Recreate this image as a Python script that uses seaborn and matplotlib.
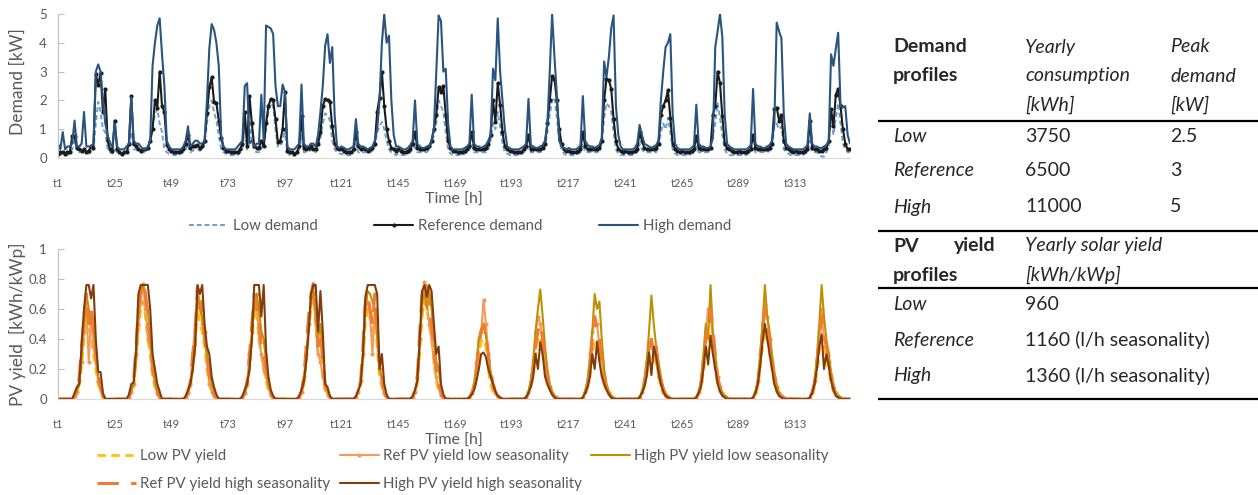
import numpy as np
import pandas as pd
import matplotlib.pyplot as plt
import seaborn as sns

# hourly profiles, 14 days (t1 .. t336)
hours = np.arange(336)
tick_pos = np.arange(0, 336, 24)
tick_labels = ["t1", "t25", "t49", "t73", "t97", "t121", "t145", "t169",
               "t193", "t217", "t241", "t265", "t289", "t313"]

low_demand = [
    0.1, 0.1, 0.15, 0.1, 0.1, 0.15, 0.3, 0.6, 0.3, 0.2, 0.2, 0.2, 0.2, 0.15, 0.2, 0.3, 1.2, 1.95, 1.6, 1.0, 0.9, 0.3, 0.2, 0.15,
    0.3, 0.2, 0.15, 0.1, 0.15, 0.15, 0.3, 0.9, 0.3, 0.3, 0.25, 0.2, 0.2, 0.2, 0.3, 0.6, 1.1, 1.5, 1.7, 1.2, 0.9, 0.3, 0.2, 0.15,
    0.15, 0.1, 0.1, 0.1, 0.15, 0.2, 0.3, 0.5, 0.2, 0.25, 0.3, 0.3, 0.25, 0.3, 0.5, 1.2, 1.8, 2.0, 1.6, 1.3, 0.8, 0.3, 0.2, 0.15,
    0.15, 0.1, 0.1, 0.1, 0.1, 0.2, 0.3, 1.0, 0.3, 1.3, 0.6, 0.25, 0.2, 0.2, 0.4, 0.3, 1.0, 1.6, 1.9, 1.8, 1.0, 0.4, 0.4, 0.6,
    1.0, 0.2, 0.1, 0.1, 0.1, 0.15, 0.3, 0.8, 0.2, 0.2, 0.2, 0.3, 0.2, 0.2, 0.4, 0.7, 1.2, 1.55, 1.5, 1.3, 0.6, 0.3, 0.2, 0.15,
    0.15, 0.1, 0.1, 0.1, 0.1, 0.2, 0.5, 0.2, 0.15, 0.2, 0.2, 0.15, 0.2, 0.25, 0.4, 0.9, 1.1, 1.25, 1.0, 0.6, 0.3, 0.2, 0.15, 0.1,
    0.15, 0.1, 0.1, 0.1, 0.15, 0.2, 0.3, 0.4, 0.2, 0.2, 0.2, 0.2, 0.2, 0.3, 0.5, 0.8, 1.2, 2.0, 1.8, 1.6, 0.9, 0.3, 0.15, 0.1,
    0.1, 0.1, 0.1, 0.1, 0.15, 0.2, 0.25, 0.5, 0.2, 0.2, 0.2, 0.2, 0.2, 0.2, 0.3, 0.6, 1.2, 1.0, 1.6, 1.1, 0.5, 0.2, 0.15, 0.1,
    0.1, 0.1, 0.1, 0.1, 0.15, 0.2, 0.25, 0.4, 0.2, 0.2, 0.2, 0.2, 0.2, 0.25, 0.4, 0.9, 1.5, 2.0, 2.1, 1.4, 0.6, 0.3, 0.15, 0.1,
    0.1, 0.1, 0.1, 0.1, 0.15, 0.2, 0.5, 0.2, 0.2, 0.2, 0.2, 0.2, 0.2, 0.25, 0.5, 1.4, 1.9, 1.8, 1.6, 0.9, 0.3, 0.15, 0.1, 0.1,
    0.1, 0.1, 0.1, 0.1, 0.15, 0.2, 0.5, 0.3, 0.2, 0.2, 0.2, 0.2, 0.2, 0.2, 0.4, 0.9, 1.2, 1.0, 1.4, 0.9, 0.3, 0.15, 0.1, 0.1,
    0.1, 0.1, 0.1, 0.1, 0.15, 0.2, 0.4, 0.2, 0.2, 0.2, 0.2, 0.2, 0.25, 0.8, 1.2, 1.9, 1.4, 0.8, 0.3, 0.15, 0.1, 0.1, 0.1, 0.1,
    0.1, 0.1, 0.1, 0.1, 0.15, 0.2, 0.4, 0.2, 0.2, 0.2, 0.2, 0.2, 0.2, 0.25, 0.4, 1.1, 1.2, 1.0, 1.1, 0.3, 0.2, 0.15, 0.1, 0.1,
    0.1, 0.1, 0.1, 0.1, 0.15, 0.2, 0.6, 0.2, 0.2, 0.2, 0.1, 0.05, 0.05, 0.2, 0.4, 1.5, 0.8, 1.4, 1.9, 1.2, 0.5, 0.3, 0.2, 0.2,
]
ref_demand = [
    0.15, 0.2, 0.2, 0.15, 0.2, 0.2, 0.75, 0.75, 0.35, 0.3, 0.25, 0.3, 0.2, 0.25, 0.4, 0.35, 2.9, 2.55, 2.95, 1.6, 2.4, 0.6, 0.3, 0.25,
    1.3, 0.3, 0.2, 0.15, 0.2, 0.2, 0.5, 2.15, 0.5, 0.4, 0.3, 0.25, 0.3, 0.3, 0.35, 0.6, 1.0, 2.0, 1.75, 3.0, 1.8, 1.6, 0.45, 0.3,
    0.25, 0.2, 0.2, 0.2, 0.25, 0.3, 0.5, 0.8, 0.35, 0.4, 0.4, 0.45, 0.35, 0.4, 0.6, 1.55, 2.45, 2.8, 1.95, 1.9, 1.3, 0.7, 0.35, 0.25,
    0.25, 0.2, 0.2, 0.2, 0.2, 0.3, 0.5, 1.6, 0.4, 2.15, 1.2, 0.4, 0.35, 0.35, 0.6, 0.4, 1.2, 1.8, 2.05, 2.0, 1.35, 0.55, 0.6, 1.0,
    2.3, 0.25, 0.2, 0.2, 0.15, 0.2, 0.4, 1.45, 0.35, 0.3, 0.35, 0.4, 0.3, 0.3, 0.5, 0.9, 1.8, 2.05, 2.0, 1.95, 1.1, 0.5, 0.35, 0.3,
    0.3, 0.25, 0.2, 0.2, 0.2, 0.3, 0.9, 0.4, 0.3, 0.35, 0.3, 0.25, 0.3, 0.35, 0.5, 1.6, 2.1, 3.0, 1.8, 1.0, 0.6, 0.35, 0.3, 0.25,
    0.3, 0.25, 0.2, 0.2, 0.25, 0.3, 0.5, 0.9, 0.35, 0.3, 0.3, 0.3, 0.35, 0.4, 0.6, 1.0, 1.5, 2.45, 2.3, 2.5, 1.5, 0.6, 0.35, 0.25,
    0.25, 0.2, 0.2, 0.2, 0.25, 0.3, 0.4, 0.9, 0.35, 0.3, 0.3, 0.3, 0.3, 0.35, 0.5, 0.8, 2.0, 1.25, 2.6, 1.85, 0.9, 0.4, 0.3, 0.25,
    0.25, 0.2, 0.2, 0.2, 0.2, 0.3, 0.4, 0.8, 0.3, 0.3, 0.3, 0.3, 0.3, 0.35, 0.5, 1.2, 2.0, 2.85, 2.75, 2.0, 1.0, 0.5, 0.3, 0.25,
    0.25, 0.2, 0.2, 0.2, 0.25, 0.3, 0.9, 0.4, 0.3, 0.3, 0.3, 0.3, 0.3, 0.35, 0.6, 2.0, 2.75, 2.7, 2.4, 1.35, 0.6, 0.3, 0.25, 0.2,
    0.25, 0.2, 0.2, 0.2, 0.25, 0.3, 0.9, 0.6, 0.35, 0.3, 0.3, 0.3, 0.3, 0.35, 0.5, 1.5, 1.8, 2.0, 2.35, 1.4, 0.5, 0.3, 0.25, 0.2,
    0.25, 0.2, 0.2, 0.2, 0.25, 0.3, 0.75, 0.35, 0.3, 0.3, 0.3, 0.3, 0.35, 1.5, 1.8, 3.0, 2.6, 1.45, 0.5, 0.35, 0.3, 0.25, 0.2, 0.2,
    0.25, 0.2, 0.2, 0.2, 0.25, 0.3, 0.8, 0.35, 0.3, 0.3, 0.3, 0.3, 0.3, 0.35, 0.5, 1.7, 1.75, 1.3, 1.5, 0.6, 0.35, 0.3, 0.25, 0.2,
    0.25, 0.2, 0.2, 0.2, 0.25, 0.3, 1.3, 0.35, 0.3, 0.3, 0.25, 0.25, 0.3, 0.35, 0.6, 1.7, 1.1, 2.2, 2.4, 1.8, 1.0, 0.5, 0.3, 0.3,
]
high_demand = [
    0.5, 0.3, 0.9, 0.3, 0.4, 0.4, 0.5, 1.3, 0.4, 0.4, 0.5, 1.6, 0.4, 0.4, 0.4, 0.5, 3.0, 3.25, 3.0, 2.0, 1.2, 0.8, 0.5, 0.4,
    1.2, 0.4, 0.3, 0.3, 0.3, 0.4, 0.5, 2.1, 0.6, 0.5, 0.5, 0.4, 0.3, 0.3, 0.4, 0.6, 3.2, 4.0, 4.6, 4.85, 3.6, 2.5, 0.6, 0.4,
    0.3, 0.3, 0.3, 0.3, 0.3, 0.4, 0.6, 1.1, 0.4, 0.5, 0.6, 0.6, 0.5, 0.5, 0.6, 2.0, 3.8, 4.65, 4.45, 4.0, 3.2, 0.8, 0.4, 0.3,
    0.3, 0.3, 0.3, 0.3, 0.4, 0.5, 0.6, 2.5, 2.6, 0.5, 0.6, 0.4, 0.5, 0.5, 2.2, 0.6, 4.6, 4.55, 4.5, 4.3, 2.5, 1.8, 1.8, 2.55,
    2.3, 0.4, 0.3, 0.3, 0.3, 0.4, 0.5, 2.55, 0.5, 0.4, 0.4, 0.5, 0.5, 0.4, 0.8, 1.6, 2.5, 3.9, 4.3, 3.3, 3.85, 1.5, 0.4, 0.35,
    0.4, 0.35, 0.3, 0.3, 0.35, 0.4, 1.35, 0.5, 0.4, 0.4, 0.35, 0.3, 0.35, 0.4, 0.6, 1.0, 2.0, 4.0, 5.0, 4.0, 4.25, 2.0, 0.8, 0.4,
    0.4, 0.35, 0.3, 0.3, 0.35, 0.45, 0.6, 2.0, 0.5, 0.4, 0.35, 0.35, 0.4, 0.4, 0.6, 1.0, 3.0, 4.95, 4.75, 3.0, 3.1, 1.2, 0.4, 0.3,
    0.3, 0.3, 0.3, 0.3, 0.35, 0.4, 0.5, 2.2, 0.5, 0.4, 0.4, 0.35, 0.4, 0.45, 0.6, 0.8, 3.1, 2.7, 4.85, 3.0, 2.0, 1.0, 0.4, 0.35,
    0.3, 0.3, 0.3, 0.3, 0.35, 0.4, 0.5, 2.05, 0.45, 0.4, 0.35, 0.35, 0.4, 0.45, 0.6, 1.2, 3.0, 5.0, 3.5, 2.2, 0.6, 0.4, 0.35, 0.3,
    0.35, 0.3, 0.3, 0.3, 0.35, 0.45, 2.15, 0.6, 0.45, 0.4, 0.4, 0.35, 0.4, 0.45, 0.7, 3.35, 2.8, 3.5, 4.5, 4.95, 1.8, 0.8, 0.4, 0.3,
    0.3, 0.3, 0.3, 0.3, 0.35, 0.5, 1.15, 0.8, 0.5, 0.45, 0.4, 0.35, 0.4, 0.45, 0.6, 2.0, 3.0, 3.85, 4.0, 4.3, 1.5, 0.5, 0.35, 0.3,
    0.3, 0.3, 0.3, 0.3, 0.35, 0.45, 1.85, 0.5, 0.4, 0.4, 0.35, 0.35, 0.4, 0.7, 3.85, 4.4, 5.0, 4.2, 1.5, 0.5, 0.4, 0.35, 0.3, 0.3,
    0.3, 0.3, 0.3, 0.3, 0.35, 0.45, 2.4, 0.5, 0.4, 0.4, 0.35, 0.35, 0.4, 0.45, 0.6, 1.2, 4.7, 4.4, 4.15, 1.5, 0.5, 0.4, 0.35, 0.3,
    0.3, 0.3, 0.3, 0.3, 0.35, 0.45, 1.55, 0.5, 0.4, 0.4, 0.35, 0.35, 0.4, 0.45, 0.6, 3.6, 3.2, 3.8, 4.35, 1.8, 1.75, 1.8, 0.8, 0.5,
]

low_pv = [
    0, 0, 0, 0, 0, 0, 0, .01, .04, .1, .22, .4, .55, .45, .45, .3, .2, .1, .05, .01, 0, 0, 0, 0,
    0, 0, 0, 0, 0, 0, .01, .04, .08, .25, .45, .6, .65, .55, .4, .3, .15, .08, .03, .01, 0, 0, 0, 0,
    0, 0, 0, 0, 0, 0, .01, .03, .08, .2, .35, .6, .5, .45, .35, .2, .1, .05, .02, .01, 0, 0, 0, 0,
    0, 0, 0, 0, 0, 0, .01, .03, .08, .2, .4, .55, .6, .4, .3, .2, .12, .06, .02, .01, 0, 0, 0, 0,
    0, 0, 0, 0, 0, 0, .01, .04, .1, .25, .45, .6, .68, .5, .3, .3, .15, .06, .02, .01, 0, 0, 0, 0,
    0, 0, 0, 0, 0, 0, .01, .04, .1, .25, .5, .6, .55, .45, .55, .35, .15, .08, .03, .01, 0, 0, 0, 0,
    0, 0, 0, 0, 0, 0, .01, .04, .1, .3, .55, .65, .6, .5, .4, .25, .12, .06, .02, .01, 0, 0, 0, 0,
    0, 0, 0, 0, 0, 0, .01, .03, .06, .15, .3, .38, .4, .35, .2, .1, .05, .03, .01, 0, 0, 0, 0, 0,
    0, 0, 0, 0, 0, 0, .01, .03, .08, .15, .3, .4, .42, .3, .2, .1, .06, .03, .01, 0, 0, 0, 0, 0,
    0, 0, 0, 0, 0, 0, .01, .03, .08, .15, .3, .4, .38, .3, .2, .1, .06, .03, .01, 0, 0, 0, 0, 0,
    0, 0, 0, 0, 0, 0, .01, .03, .08, .15, .28, .3, .25, .28, .15, .08, .04, .02, .01, 0, 0, 0, 0, 0,
    0, 0, 0, 0, 0, 0, .01, .03, .08, .18, .3, .35, .45, .35, .2, .1, .05, .03, .01, 0, 0, 0, 0, 0,
    0, 0, 0, 0, 0, 0, .01, .03, .08, .2, .35, .45, .4, .3, .2, .1, .05, .03, .01, 0, 0, 0, 0, 0,
    0, 0, 0, 0, 0, 0, .01, .03, .08, .18, .32, .42, .35, .28, .2, .1, .05, .03, .01, 0, 0, 0, 0, 0,
]
ref_pv_low_seas = [
    0, 0, 0, 0, 0, 0, 0, .02, .05, .12, .25, .45, .6, .25, .55, .35, .25, .12, .06, .02, 0, 0, 0, 0,
    0, 0, 0, 0, 0, 0, .01, .05, .1, .3, .5, .65, .77, .6, .4, .35, .2, .1, .04, .01, 0, 0, 0, 0,
    0, 0, 0, 0, 0, 0, .01, .04, .1, .3, .5, .72, .65, .5, .45, .25, .1, .05, .02, .01, 0, 0, 0, 0,
    0, 0, 0, 0, 0, 0, .01, .04, .1, .3, .45, .6, .7, .4, .3, .2, .15, .08, .03, .01, 0, 0, 0, 0,
    0, 0, 0, 0, 0, 0, .01, .05, .15, .3, .5, .65, .75, .5, .3, .25, .15, .08, .03, .01, 0, 0, 0, 0,
    0, 0, 0, 0, 0, 0, .01, .05, .12, .3, .6, .65, .55, .3, .6, .4, .2, .1, .04, .01, 0, 0, 0, 0,
    0, 0, 0, 0, 0, 0, .01, .05, .15, .4, .6, .78, .65, .5, .4, .25, .15, .08, .03, .01, 0, 0, 0, 0,
    0, 0, 0, 0, 0, 0, .01, .04, .1, .25, .4, .45, .66, .5, .3, .15, .08, .04, .02, .01, 0, 0, 0, 0,
    0, 0, 0, 0, 0, 0, .01, .05, .12, .25, .45, .55, .5, .4, .25, .15, .08, .04, .02, .01, 0, 0, 0, 0,
    0, 0, 0, 0, 0, 0, .01, .05, .12, .3, .45, .53, .5, .35, .25, .15, .08, .04, .02, .01, 0, 0, 0, 0,
    0, 0, 0, 0, 0, 0, .01, .05, .12, .25, .37, .35, .3, .25, .15, .1, .05, .02, .01, 0, 0, 0, 0, 0,
    0, 0, 0, 0, 0, 0, .01, .05, .12, .25, .45, .6, .55, .4, .25, .15, .08, .04, .02, .01, 0, 0, 0, 0,
    0, 0, 0, 0, 0, 0, .01, .05, .12, .3, .5, .63, .55, .4, .25, .15, .08, .04, .02, .01, 0, 0, 0, 0,
    0, 0, 0, 0, 0, 0, .01, .05, .12, .25, .45, .6, .4, .35, .25, .15, .08, .04, .02, .01, 0, 0, 0, 0,
]
high_pv_low_seas = [
    0, 0, 0, 0, 0, 0, 0, .02, .05, .1, .3, .5, .7, .6, .5, .5, .3, .15, .08, .02, 0, 0, 0, 0,
    0, 0, 0, 0, 0, 0, .01, .05, .1, .25, .55, .72, .76, .7, .6, .4, .25, .12, .06, .02, 0, 0, 0, 0,
    0, 0, 0, 0, 0, 0, .01, .04, .1, .2, .35, .7, .6, .55, .4, .3, .2, .1, .05, .02, 0, 0, 0, 0,
    0, 0, 0, 0, 0, 0, .01, .04, .1, .2, .4, .65, .7, .6, .45, .4, .25, .1, .05, .02, 0, 0, 0, 0,
    0, 0, 0, 0, 0, 0, .01, .05, .1, .25, .45, .65, .72, .6, .4, .5, .3, .1, .05, .02, 0, 0, 0, 0,
    0, 0, 0, 0, 0, 0, .01, .05, .1, .3, .6, .72, .7, .65, .6, .45, .2, .15, .06, .02, 0, 0, 0, 0,
    0, 0, 0, 0, 0, 0, .01, .05, .12, .35, .65, .7, .6, .72, .6, .4, .25, .2, .08, .02, 0, 0, 0, 0,
    0, 0, 0, 0, 0, 0, .01, .04, .1, .2, .4, .47, .48, .42, .3, .18, .1, .05, .02, .01, 0, 0, 0, 0,
    0, 0, 0, 0, 0, 0, .01, .05, .12, .25, .45, .6, .73, .55, .35, .2, .1, .05, .02, .01, 0, 0, 0, 0,
    0, 0, 0, 0, 0, 0, .01, .05, .12, .25, .45, .7, .6, .65, .4, .2, .1, .05, .02, .01, 0, 0, 0, 0,
    0, 0, 0, 0, 0, 0, .01, .05, .12, .25, .45, .69, .5, .35, .25, .15, .08, .04, .02, .01, 0, 0, 0, 0,
    0, 0, 0, 0, 0, 0, .01, .05, .12, .3, .5, .4, .76, .45, .3, .15, .08, .04, .02, .01, 0, 0, 0, 0,
    0, 0, 0, 0, 0, 0, .01, .05, .12, .28, .5, .76, .55, .45, .3, .18, .1, .04, .02, .01, 0, 0, 0, 0,
    0, 0, 0, 0, 0, 0, .01, .05, .12, .28, .5, .76, .55, .4, .3, .18, .1, .04, .02, .01, 0, 0, 0, 0,
]
ref_pv_high_seas = [
    0, 0, 0, 0, 0, 0, 0, .02, .06, .15, .35, .55, .7, .5, .6, .5, .3, .15, .08, .02, 0, 0, 0, 0,
    0, 0, 0, 0, 0, 0, .01, .06, .12, .35, .6, .72, .77, .7, .55, .4, .2, .12, .05, .01, 0, 0, 0, 0,
    0, 0, 0, 0, 0, 0, .01, .05, .12, .3, .45, .75, .6, .65, .4, .3, .15, .08, .03, .01, 0, 0, 0, 0,
    0, 0, 0, 0, 0, 0, .01, .05, .12, .3, .5, .7, .6, .55, .35, .3, .2, .1, .04, .01, 0, 0, 0, 0,
    0, 0, 0, 0, 0, 0, .01, .05, .15, .35, .55, .7, .77, .6, .35, .45, .25, .1, .04, .01, 0, 0, 0, 0,
    0, 0, 0, 0, 0, 0, .01, .06, .12, .35, .65, .7, .6, .5, .7, .5, .2, .15, .05, .01, 0, 0, 0, 0,
    0, 0, 0, 0, 0, 0, .01, .06, .15, .45, .7, .78, .75, .6, .5, .35, .2, .1, .04, .01, 0, 0, 0, 0,
    0, 0, 0, 0, 0, 0, .01, .04, .08, .2, .35, .45, .5, .45, .3, .18, .1, .05, .02, .01, 0, 0, 0, 0,
    0, 0, 0, 0, 0, 0, .01, .04, .1, .2, .35, .45, .5, .4, .3, .15, .08, .04, .02, .01, 0, 0, 0, 0,
    0, 0, 0, 0, 0, 0, .01, .04, .1, .2, .4, .55, .45, .4, .25, .15, .08, .04, .02, .01, 0, 0, 0, 0,
    0, 0, 0, 0, 0, 0, .01, .04, .1, .2, .35, .4, .3, .35, .2, .12, .06, .03, .01, 0, 0, 0, 0, 0,
    0, 0, 0, 0, 0, 0, .01, .04, .1, .25, .4, .5, .6, .45, .3, .15, .08, .04, .02, .01, 0, 0, 0, 0,
    0, 0, 0, 0, 0, 0, .01, .04, .1, .25, .45, .6, .5, .4, .25, .15, .08, .04, .02, .01, 0, 0, 0, 0,
    0, 0, 0, 0, 0, 0, .01, .04, .1, .25, .4, .55, .45, .35, .3, .15, .08, .04, .02, .01, 0, 0, 0, 0,
]
high_pv_high_seas = [
    0, 0, 0, 0, 0, 0, 0, .04, .08, .1, .37, .6, .76, .76, .67, .76, .4, .18, .18, .04, 0, 0, 0, 0,
    0, 0, 0, 0, 0, 0, .03, .1, .11, .33, .7, .76, .76, .76, .76, .6, .3, .2, .1, .05, 0, 0, 0, 0,
    0, 0, 0, 0, 0, 0, .02, .06, .1, .2, .35, .76, .7, .76, .5, .35, .3, .15, .08, .03, 0, 0, 0, 0,
    0, 0, 0, 0, 0, 0, .02, .06, .1, .2, .4, .76, .76, .76, .55, .76, .33, .15, .06, .02, 0, 0, 0, 0,
    0, 0, 0, 0, 0, 0, .02, .06, .12, .25, .45, .7, .76, .76, .45, .72, .45, .1, .08, .02, 0, 0, 0, 0,
    0, 0, 0, 0, 0, 0, .02, .06, .1, .3, .68, .76, .76, .76, .76, .7, .2, .3, .1, .03, 0, 0, 0, 0,
    0, 0, 0, 0, 0, 0, .02, .06, .12, .4, .72, .76, .68, .76, .72, .5, .3, .35, .1, .03, 0, 0, 0, 0,
    0, 0, 0, 0, 0, 0, .01, .03, .06, .12, .2, .3, .31, .28, .2, .15, .1, .05, .02, .01, 0, 0, 0, 0,
    0, 0, 0, 0, 0, 0, .01, .04, .08, .15, .3, .2, .38, .3, .15, .1, .06, .03, .01, 0, 0, 0, 0, 0,
    0, 0, 0, 0, 0, 0, .01, .04, .08, .15, .3, .2, .38, .25, .15, .1, .06, .03, .01, 0, 0, 0, 0, 0,
    0, 0, 0, 0, 0, 0, .01, .04, .08, .15, .31, .16, .35, .28, .18, .1, .05, .02, .01, 0, 0, 0, 0, 0,
    0, 0, 0, 0, 0, 0, .01, .04, .08, .2, .35, .23, .42, .3, .2, .1, .05, .02, .01, 0, 0, 0, 0, 0,
    0, 0, 0, 0, 0, 0, .01, .04, .1, .22, .38, .5, .4, .3, .2, .1, .05, .02, .01, 0, 0, 0, 0, 0,
    0, 0, 0, 0, 0, 0, .01, .04, .1, .2, .35, .43, .2, .3, .22, .12, .06, .02, .01, 0, 0, 0, 0, 0,
]

for s in [low_demand, ref_demand, high_demand, low_pv, ref_pv_low_seas,
          high_pv_low_seas, ref_pv_high_seas, high_pv_high_seas]:
    assert len(s) == 336, len(s)

demand_rows = [("Low", "3750", "2.5"), ("Reference", "6500", "3"), ("High", "11000", "5")]
pv_rows = [("Low", "960"), ("Reference", "1160 (l/h seasonality)"), ("High", "1360 (l/h seasonality)")]

sns.set_style("white")
plt.rcParams["font.family"] = ["Lato", "DejaVu Sans"]
grey = "#595959"

W, H = 1258, 495
fig = plt.figure(figsize=(W / 100, H / 100), dpi=100)

# table drawn in pixel coordinates on a background axes
axt = fig.add_axes([0, 0, 1, 1])
axt.set_xlim(0, W)
axt.set_ylim(H, 0)
axt.axis("off")

ax1 = fig.add_axes([58 / W, 1 - 158 / H, 792 / W, 144 / H])
ax2 = fig.add_axes([58 / W, 1 - 399 / H, 792 / W, 150 / H])

# --- demand
sns.lineplot(x=hours, y=low_demand, ax=ax1, color="#6A9FD0", lw=1.4,
             linestyle=(0, (2.5, 1.5)), label="Low demand")
sns.lineplot(x=hours, y=ref_demand, ax=ax1, color="#1b1b1b", lw=1.5,
             marker="o", markersize=3, markeredgewidth=0, label="Reference demand")
sns.lineplot(x=hours, y=high_demand, ax=ax1, color="#2A5480", lw=1.5,
             label="High demand")
ax1.set_ylim(0, 5)
ax1.set_yticks([0, 1, 2, 3, 4, 5])
ax1.set_ylabel("Demand [kW]", fontsize=12.5, color=grey)
ax1.yaxis.set_label_coords(-0.041, 0.53)

# --- pv yield
sns.lineplot(x=hours, y=low_pv, ax=ax2, color="#FFC000", lw=2,
             linestyle=(0, (3, 2)), label="Low PV yield")
sns.lineplot(x=hours, y=ref_pv_low_seas, ax=ax2, color="#F39A5B", lw=1.5,
             marker="o", markersize=3, markeredgewidth=0, label="Ref PV yield low seasonality")
sns.lineplot(x=hours, y=high_pv_low_seas, ax=ax2, color="#BF9000", lw=1.5,
             label="High PV yield low seasonality")
sns.lineplot(x=hours, y=ref_pv_high_seas, ax=ax2, color="#ED7D31", lw=2.2,
             linestyle=(0, (7, 4)), label="Ref PV yield high seasonality")
sns.lineplot(x=hours, y=high_pv_high_seas, ax=ax2, color="#843C0C", lw=1.5,
             label="High PV yield high seasonality")
ax2.set_ylim(0, 1)
ax2.set_yticks([0, 0.2, 0.4, 0.6, 0.8, 1])
ax2.set_yticklabels(["0", "0.2", "0.4", "0.6", "0.8", "1"])
ax2.set_ylabel("PV yield  [kWh/kWp]", fontsize=12.5, color=grey)
ax2.yaxis.set_label_coords(-0.041, 0.5)

for ax in (ax1, ax2):
    ax.set_xlim(0, 335)
    ax.set_xticks(tick_pos)
    ax.set_xticklabels(tick_labels)
    ax.set_xlabel("Time [h]", fontsize=11.5, color=grey, labelpad=3)
    for side in ("top", "right"):
        ax.spines[side].set_visible(False)
    ax.spines["left"].set_color("#BFBFBF")
    ax.spines["bottom"].set_color("#D9D9D9")
    ax.tick_params(axis="y", left=True, direction="in", length=4, color="#BFBFBF",
                   labelcolor=grey, labelsize=9.5, pad=8)
    ax.tick_params(axis="x", bottom=False, labelcolor=grey, labelsize=8, pad=11)

h, l = ax1.get_legend_handles_labels()
ax1.legend(h, l, loc="center", bbox_to_anchor=(460 / W, 1 - 226 / H),
           bbox_transform=fig.transFigure, ncol=3, frameon=False, fontsize=10.8,
           labelcolor=grey, handlelength=2.6, handletextpad=0.3, columnspacing=3.8)

h, l = ax2.get_legend_handles_labels()
order = [0, 3, 1, 4, 2]
ax2.legend([h[i] for i in order], [l[i] for i in order], loc="center",
           bbox_to_anchor=(463 / W, 1 - 470 / H), bbox_transform=fig.transFigure,
           ncol=3, frameon=False, fontsize=10.8, labelcolor=grey, handlelength=2.6,
           handletextpad=0.3, columnspacing=0.6, labelspacing=0.95)

# --- table
fs = 14
c1, c2, c3 = 893, 1025, 1170
axt.text(c1, 47, "Demand", fontsize=fs, fontweight="bold", va="center")
axt.text(c1, 76, "profiles", fontsize=fs, fontweight="bold", va="center")
for y, t in zip([47, 76, 105], ["Yearly", "consumption", "[kWh]"]):
    axt.text(c2, y, t, fontsize=fs, style="italic", va="center")
for y, t in zip([47, 76, 105], ["Peak", "demand", "[kW]"]):
    axt.text(c3, y, t, fontsize=fs, style="italic", va="center")
for y, (name, cons, peak) in zip([136, 171, 207], demand_rows):
    axt.text(c1, y, name, fontsize=fs, style="italic", va="center")
    axt.text(c2, y, cons, fontsize=fs, va="center")
    axt.text(c3, y, peak, fontsize=fs, va="center")
axt.text(c1, 246, "PV", fontsize=fs, fontweight="bold", va="center")
axt.text(996, 246, "yield", fontsize=fs, fontweight="bold", va="center", ha="right")
axt.text(c1, 275, "profiles", fontsize=fs, fontweight="bold", va="center")
axt.text(c2, 246, "Yearly solar yield", fontsize=fs, style="italic", va="center")
axt.text(c2, 275, "[kWh/kWp]", fontsize=fs, style="italic", va="center")
for y, (name, yld) in zip([305, 340, 376], pv_rows):
    axt.text(c1, y, name, fontsize=fs, style="italic", va="center")
    axt.text(c2, y, yld, fontsize=fs, va="center")
axt.hlines([120.5, 231, 287.5, 399], 878, 1258, color="black", lw=1.6)

plt.savefig("out.png", dpi=100)
